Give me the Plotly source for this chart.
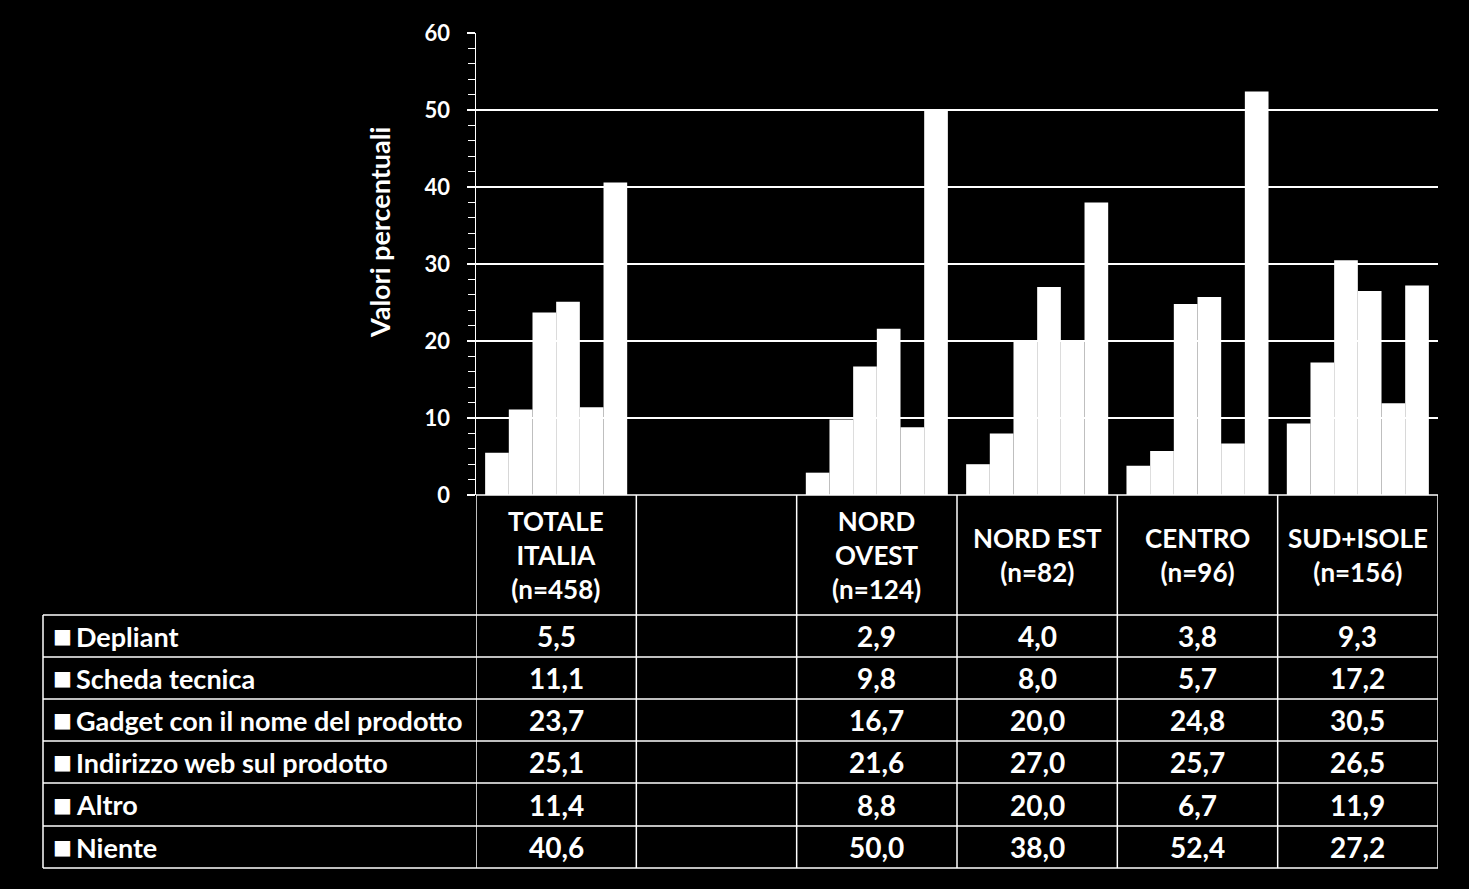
import plotly.graph_objects as go

W, H = 1469, 889

# ---- data ----
categories = ["TOTALE<br>ITALIA<br>(n=458)", "", "NORD<br>OVEST<br>(n=124)",
              "NORD EST<br>(n=82)", "CENTRO<br>(n=96)", "SUD+ISOLE<br>(n=156)"]
series_names = ["Depliant", "Scheda tecnica", "Gadget con il nome del prodotto",
                "Indirizzo web sul prodotto", "Altro", "Niente"]
depliant = [5.5, None, 2.9, 4.0, 3.8, 9.3]
scheda = [11.1, None, 9.8, 8.0, 5.7, 17.2]
gadget = [23.7, None, 16.7, 20.0, 24.8, 30.5]
indirizzo = [25.1, None, 21.6, 27.0, 25.7, 26.5]
altro = [11.4, None, 8.8, 20.0, 6.7, 11.9]
niente = [40.6, None, 50.0, 38.0, 52.4, 27.2]
series_values = [depliant, scheda, gadget, indirizzo, altro, niente]
y_ticks = [0, 10, 20, 30, 40, 50, 60]
y_title = "Valori percentuali"

FONT = "Lato"
xpos = list(range(len(categories)))

# layout geometry (pixels)
PL, PR, PT, PB = 476, 1438, 33, 495
TL = 43
row_lines = [615, 657, 699, 741, 783, 826, 868]


def px(x):
    return x / W


def py(y):
    return 1 - y / H


fig = go.Figure()
for name, vals in zip(series_names, series_values):
    fig.add_trace(go.Bar(x=xpos, y=vals, name=name,
                         marker=dict(color="white", line=dict(width=0)),
                         showlegend=False, hoverinfo="skip"))

shapes = []
line_style = dict(color="white", width=1.5)
for y in row_lines:
    shapes.append(dict(type="line", xref="paper", yref="paper",
                       x0=px(TL), x1=px(PR), y0=py(y), y1=py(y), line=line_style))
shapes.append(dict(type="line", xref="paper", yref="paper",
                   x0=px(TL), x1=px(TL), y0=py(row_lines[0]), y1=py(row_lines[-1]), line=line_style))
for k in range(len(categories) + 1):
    shapes.append(dict(type="line", xref="x", yref="paper",
                       x0=k - 0.5, x1=k - 0.5, y0=py(PB), y1=py(row_lines[-1]), line=line_style))
shapes.append(dict(type="line", xref="paper", yref="paper",
                   x0=px(PL), x1=px(PR), y0=py(PB), y1=py(PB), line=line_style))

annotations = []
hdr_font = dict(family=FONT, size=26, color="white")
row_font = dict(family=FONT, size=27, color="white")
val_font = dict(family=FONT, size=28, color="white")
for k, c in enumerate(categories):
    if c:
        annotations.append(dict(x=k, y=py((PB + row_lines[0]) / 2), xref="x", yref="paper",
                                text="<b>" + c + "</b>", showarrow=False, font=hdr_font,
                                xanchor="center", yanchor="middle", align="center"))
for r, (name, vals) in enumerate(zip(series_names, series_values)):
    yc = py((row_lines[r] + row_lines[r + 1]) / 2)
    # legend square key
    annotations.append(dict(x=px(TL + 8), y=yc, xref="paper", yref="paper",
                            text="■", showarrow=False,
                            font=dict(family="DejaVu Sans", size=20, color="white"),
                            xanchor="left", yanchor="middle"))
    annotations.append(dict(x=px(TL + 31), y=yc, xref="paper", yref="paper",
                            text="<b>" + name + "</b>", showarrow=False, font=row_font,
                            xanchor="left", yanchor="middle"))
    for k, v in enumerate(vals):
        if v is None:
            continue
        annotations.append(dict(x=k, y=yc, xref="x", yref="paper",
                                text="<b>" + f"{v:.1f}".replace(".", ",") + "</b>",
                                showarrow=False, font=val_font, xanchor="center", yanchor="middle"))
# y-axis title
annotations.append(dict(x=px(380), y=py(232), xref="paper", yref="paper",
                        text="<b>" + y_title + "</b>", textangle=-90, showarrow=False,
                        font=dict(family=FONT, size=27, color="white"),
                        xanchor="center", yanchor="middle"))

fig.update_layout(
    template="none",
    width=W, height=H, autosize=False,
    paper_bgcolor="black", plot_bgcolor="black",
    margin=dict(l=0, r=0, t=0, b=0, pad=0),
    barmode="group", bargap=0.114, bargroupgap=0,
    font=dict(family=FONT, color="white"),
    shapes=shapes, annotations=annotations,
    xaxis=dict(domain=[px(PL), px(PR)], range=[-0.5, len(categories) - 0.5],
               showticklabels=False, showgrid=False, zeroline=False, ticks="",
               showline=False, automargin=False, fixedrange=True),
    yaxis=dict(domain=[py(PB), py(PT)], range=[0, 60], tickvals=y_ticks,
               ticktext=[f"<b>{t}</b>" for t in y_ticks],
               showgrid=True, gridcolor="white", gridwidth=1.2,
               showline=True, linecolor="white", linewidth=1.5,
               ticks="outside", ticklen=8, tickcolor="white", tickwidth=1.2,
               minor=dict(dtick=2, ticks="outside", ticklen=7, tickcolor="white",
                          tickwidth=1.2, showgrid=False),
               zeroline=False, ticklabelstandoff=12, automargin=False, fixedrange=True,
               tickfont=dict(family=FONT, size=22, color="white")),
)

fig.write_html("out.html", config={"displayModeBar": False, "staticPlot": True},
               post_script="document.body.style.margin='0px';document.body.style.background='black';")
